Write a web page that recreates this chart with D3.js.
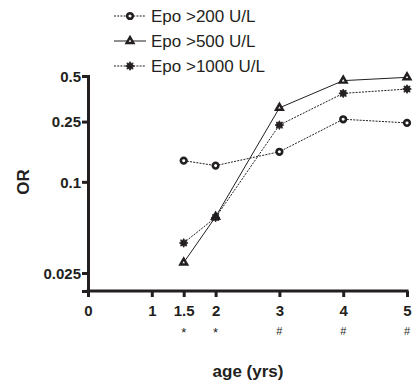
<!DOCTYPE html>
<html>
<head>
<meta charset="utf-8">
<script src="https://cdn.jsdelivr.net/npm/d3@7"></script>
<style>
  body { margin: 0; background: #fff; }
  svg { font-family: Arial, "Liberation Sans", Helvetica, sans-serif; }
</style>
</head>
<body>
<div id="chart"></div>
<script>
// age in years
var ages = [1.5, 2, 3, 4, 5];
var epo200 = [0.138, 0.128, 0.158, 0.259, 0.245];
var epo500 = [0.0293, 0.0587, 0.308, 0.466, 0.49];
var epo1000 = [0.0395, 0.0581, 0.237, 0.384, 0.41];

var xTicks = [0, 1, 1.5, 2, 3, 4, 5];
var yTicks = [0.025, 0.1, 0.25, 0.5];
var sigAges = [1.5, 2, 3, 4, 5];
var sigMarks = ["*", "*", "#", "#", "#"];

var seriesNames = ["Epo >200 U/L", "Epo >500 U/L", "Epo >1000 U/L"];

var width = 415, height = 383;
var ink = "#231f20";

var svg = d3.select("#chart")
  .append("svg")
  .attr("width", width)
  .attr("height", height);

// scales
var xScale = d3.scaleLinear()
  .domain([0, 5])
  .range([88, 407]);

var yScale = d3.scaleLog()
  .domain([0.025, 0.5])
  .range([273, 76]);
// extend y axis down to the x axis
var axisY = 291;
yScale.domain([yScale.invert(axisY), 0.5]).range([axisY, 76]);

// custom 8-point star symbol
var burst = {
  draw: function (context, size) {
    var r = Math.sqrt(size / 2.2), r2 = r * 0.62, n = 8;
    for (var i = 0; i < n * 2; i++) {
      var a = Math.PI * i / n - Math.PI / 2;
      var rr = i % 2 === 0 ? r : r2;
      if (i === 0) context.moveTo(rr * Math.cos(a), rr * Math.sin(a));
      else context.lineTo(rr * Math.cos(a), rr * Math.sin(a));
    }
    context.closePath();
  }
};

var series = [
  { name: seriesNames[0], values: epo200, dash: "2,1.2", symbol: d3.symbolCircle, size: 25, fill: "#fff", sw: 2.6 },
  { name: seriesNames[1], values: epo500, dash: null, symbol: d3.symbolTriangle, size: 20, fill: "#fff", sw: 2.4 },
  { name: seriesNames[2], values: epo1000, dash: "2,1.2", symbol: burst, size: 42, fill: ink, sw: 0.8 }
];

// axes
var xAxis = d3.axisBottom(xScale)
  .tickValues(xTicks)
  .tickFormat(function (d) { return d; })
  .tickSizeOuter(0)
  .tickSize(6);

var yAxis = d3.axisLeft(yScale)
  .tickValues(yTicks)
  .tickFormat(function (d) { return d; })
  .tickSizeOuter(0)
  .tickSize(6);

var gx = svg.append("g")
  .attr("transform", "translate(0," + axisY + ")")
  .call(xAxis);

var gy = svg.append("g")
  .attr("transform", "translate(88,0)")
  .call(yAxis);

[gx, gy].forEach(function (g) {
  g.select(".domain").attr("stroke", ink).attr("stroke-width", 3);
  g.selectAll(".tick line").attr("stroke", ink).attr("stroke-width", 3);
  g.selectAll(".tick text")
    .attr("fill", ink)
    .style("font-size", "15px")
    .style("font-weight", "bold");
});
gx.selectAll(".tick text").attr("y", 14).attr("dy", "0.71em");
gx.select(".domain").attr("d", "M86.5,0H408.5");
gy.selectAll(".tick text").attr("x", -7).attr("dy", "0.35em");

// significance markers
svg.selectAll(".sig")
  .data(sigAges)
  .join("text")
  .attr("class", "sig")
  .attr("x", function (d) { return xScale(d); })
  .attr("y", function (d, i) { return sigMarks[i] === "*" ? 337 : 335; })
  .attr("text-anchor", "middle")
  .attr("fill", ink)
  .style("font-size", function (d, i) { return sigMarks[i] === "*" ? "13px" : "11px"; })
  .text(function (d, i) { return sigMarks[i]; });

// axis titles
svg.append("text")
  .attr("x", 248)
  .attr("y", 377)
  .attr("text-anchor", "middle")
  .attr("fill", ink)
  .style("font-size", "17px")
  .style("font-weight", "bold")
  .text("age (yrs)");

svg.append("text")
  .attr("transform", "translate(29,182) rotate(-90)")
  .attr("text-anchor", "middle")
  .attr("fill", ink)
  .style("font-size", "17px")
  .style("font-weight", "bold")
  .text("OR");

// lines
var line = d3.line()
  .x(function (d, i) { return xScale(ages[i]); })
  .y(function (d) { return yScale(d); });

svg.selectAll(".line")
  .data(series)
  .join("path")
  .attr("class", "line")
  .attr("fill", "none")
  .attr("stroke", ink)
  .attr("stroke-width", 1)
  .attr("stroke-dasharray", function (d) { return d.dash; })
  .attr("d", function (d) { return line(d.values); });

// markers
series.forEach(function (s) {
  var sym = d3.symbol().type(s.symbol).size(s.size);
  svg.append("g")
    .selectAll("path")
    .data(s.values)
    .join("path")
    .attr("transform", function (d, i) { return "translate(" + xScale(ages[i]) + "," + yScale(d) + ")"; })
    .attr("d", sym)
    .attr("fill", s.fill)
    .attr("stroke", ink)
    .attr("stroke-width", s.sw);
});

// legend
var legend = svg.selectAll(".legend")
  .data(series)
  .join("g")
  .attr("class", "legend")
  .attr("transform", function (d, i) { return "translate(0," + (16 + i * 25) + ")"; });

legend.append("line")
  .attr("x1", 114)
  .attr("x2", 146)
  .attr("stroke", ink)
  .attr("stroke-width", 1)
  .attr("stroke-dasharray", function (d) { return d.dash; });

legend.append("path")
  .attr("transform", "translate(130,0)")
  .attr("d", function (d) { return d3.symbol().type(d.symbol).size(d.size)(); })
  .attr("fill", function (d) { return d.fill; })
  .attr("stroke", ink)
  .attr("stroke-width", function (d) { return d.sw; });

legend.append("text")
  .attr("x", 151)
  .attr("dy", "0.35em")
  .attr("fill", ink)
  .style("font-size", "17px")
  .text(function (d) { return d.name; });
</script>
</body>
</html>
